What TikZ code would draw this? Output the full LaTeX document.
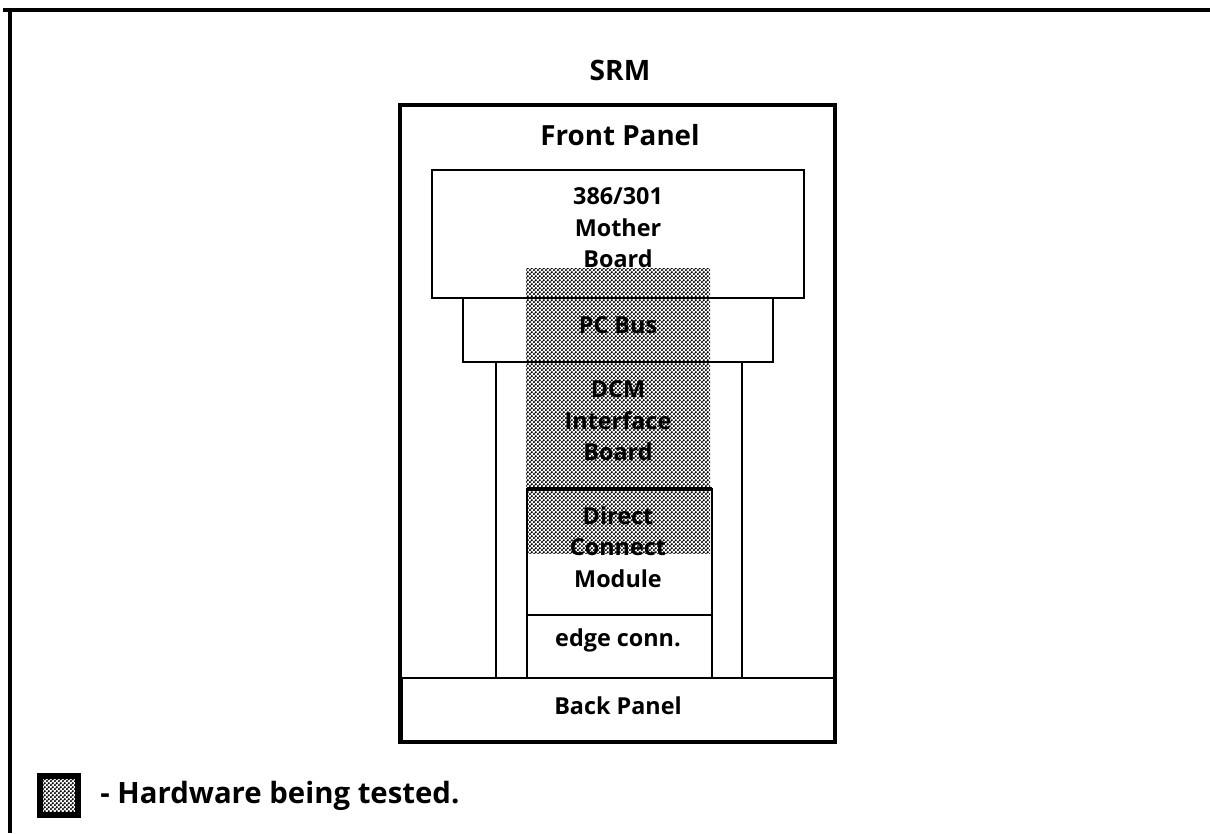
\documentclass[tikz,border=0pt]{standalone}
\usepackage{fontspec}
\setmainfont{Open Sans}
\usetikzlibrary{patterns}

% fine dot raster for the tested hardware
\pgfdeclarepatternformonly{finedots}{\pgfpointorigin}{\pgfpoint{2.2pt}{2.2pt}}{\pgfpoint{2.2pt}{2.2pt}}{
  \pgfpathcircle{\pgfpoint{0.55pt}{0.55pt}}{0.68pt}
  \pgfpathcircle{\pgfpoint{1.65pt}{1.65pt}}{0.68pt}
  \pgfusepath{fill}}

\tikzset{
  lbl/.style={font=\bfseries\fontsize{13.3}{18}\selectfont, align=center, inner sep=0pt},
  box/.style={draw, line width=1.5pt},
  tested/.style={fill=black!45, pattern=finedots, pattern color=black}
}

\begin{document}
\begin{tikzpicture}[x=0.02cm,y=-0.02cm]
\useasboundingbox (0,0) rectangle (1210,833);

%Rahmen
\draw[line width=2pt] (3,10) -- (1210,10);
\draw[line width=2pt] (10,10) -- (10,833);

%getestete Hardware
\fill[tested] (526,268) rectangle (710,553);

%Gehaeuse
\draw[line width=2.4pt] (400,105) rectangle (835,742);
\draw[box] (432,170) rectangle (804,298);
\draw[box] (463,298) rectangle (773,362);
\draw[box] (496,362) rectangle (742,678);
\draw[box] (527,489) rectangle (712,615);
\draw[line width=2.2pt] (527,489) -- (712,489);
\draw[box] (527,615) rectangle (712,678);
\draw[box] (402,678) rectangle (834,742);

%Beschriftung
\node[lbl, font=\bfseries\fontsize{16}{19}\selectfont] (srm) at (620,70) {SRM};
\node[lbl, font=\bfseries\fontsize{15.8}{19}\selectfont] (front) at (620,135) {Front Panel};
\node[lbl] (mother) at (618,228) {386/301\\Mother\\Board};
\node[lbl] (bus) at (618,325) {PC Bus};
\node[lbl] (dcmif) at (618,421) {DCM\\Interface\\Board};
\node[lbl] (dcm) at (618,547) {Direct\\Connect\\Module};
\node[lbl] (edge) at (618,640) {edge conn.};
\node[lbl] (back) at (618,706) {Back Panel};

%Legende
\draw[line width=3pt, tested] (40,776) rectangle (78,815);
\node[lbl, font=\bfseries\fontsize{16.7}{19}\selectfont, anchor=west] (legend) at (100,796) {- Hardware being tested.};

\end{tikzpicture}
\end{document}
